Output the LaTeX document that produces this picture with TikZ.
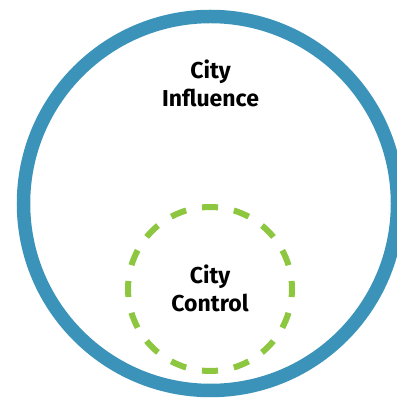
\documentclass[tikz,border=0pt]{standalone}
\usepackage{fontspec}
\setmainfont{Fira Sans}
\definecolor{ringblue}{RGB}{59,147,186}
\definecolor{ringgreen}{RGB}{141,198,63}
\tikzset{
  lbl/.style={font=\bfseries\fontsize{23}{28}\selectfont, align=center, text=black, inner sep=0pt},
}
\begin{document}
\begin{tikzpicture}[x=1pt,y=1pt]
\useasboundingbox (0,0) rectangle (396,398);
\draw[ringblue, line width=13.5pt] (210.5,194.5) circle[radius=187];
\draw[ringgreen, line width=6pt, dash pattern=on 16.1pt off 16.1pt, dash phase=8.05pt] (210,109) circle[radius=82];
\node[lbl, anchor=base] (infl) at (210.5,291) {City\\Influence};
\node[lbl, anchor=base] (ctrl) at (210,86) {City\\Control};
\end{tikzpicture}
\end{document}
